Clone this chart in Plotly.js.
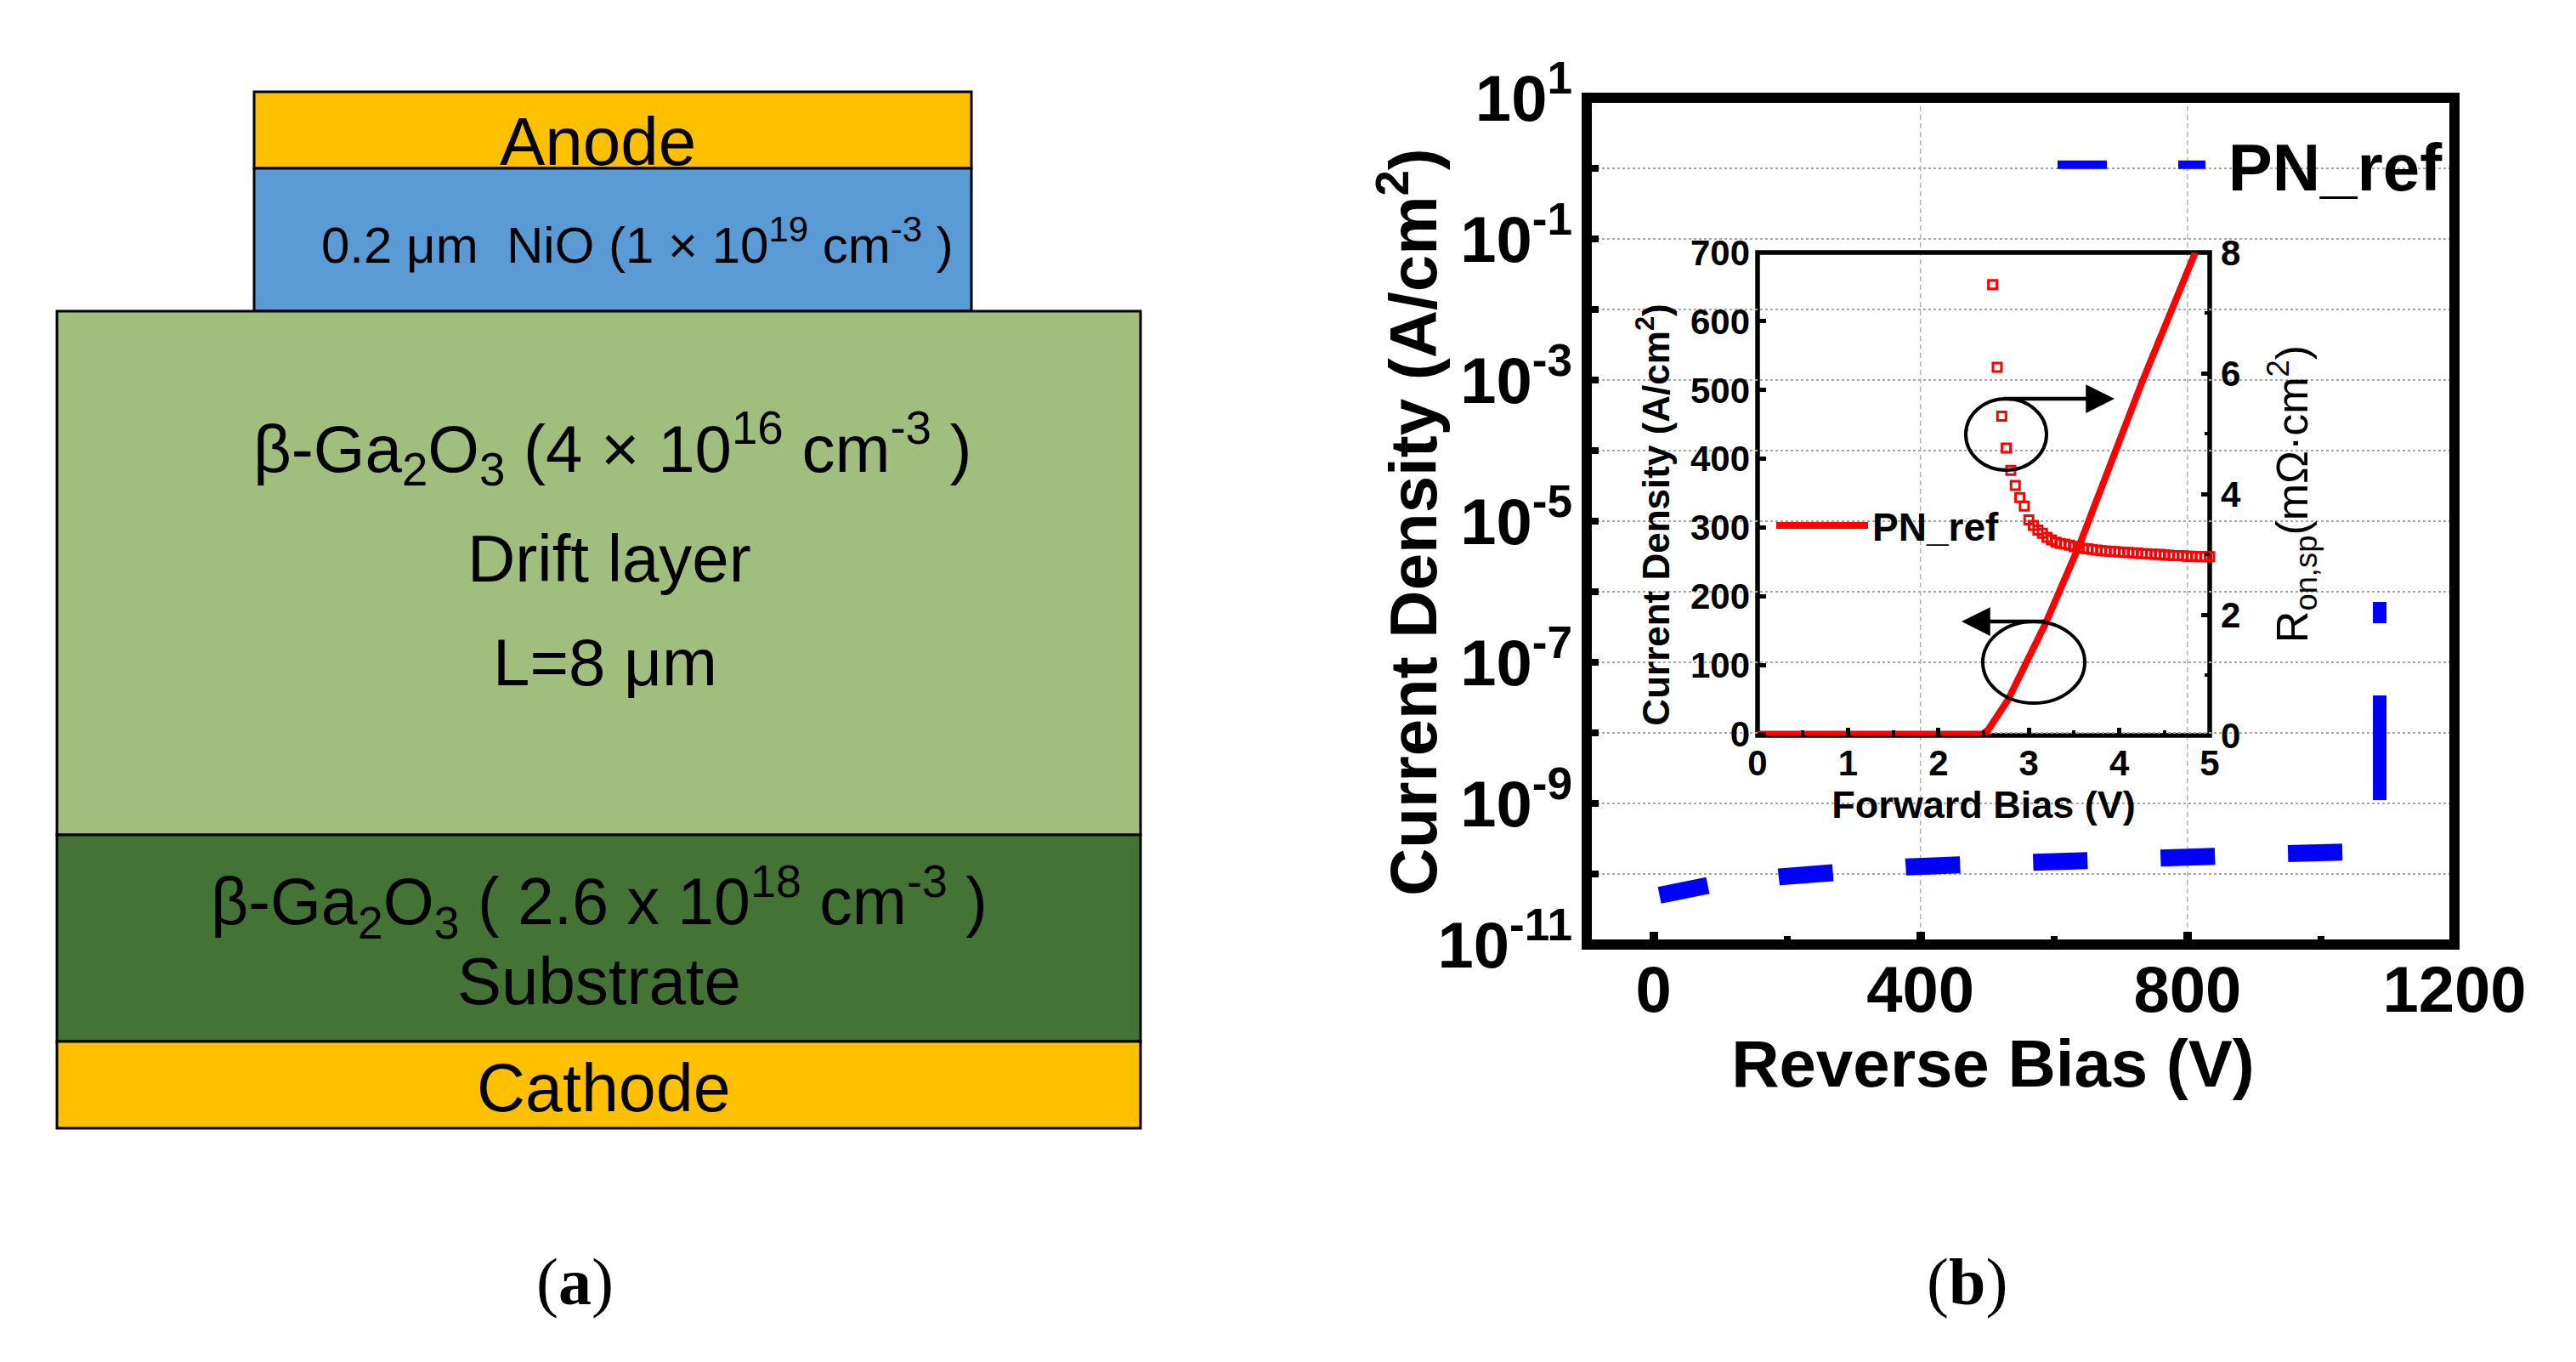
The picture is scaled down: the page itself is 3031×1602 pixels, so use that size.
<!DOCTYPE html>
<html>
<head>
<meta charset="utf-8">
<script src="https://cdn.plot.ly/plotly-3.0.1.min.js"></script>
<style>html,body{margin:0;padding:0;background:#fff}</style>
</head>
<body>
<div id="chart" style="width:3031px;height:1602px"></div>
<script>
// ---- main plot: reverse bias leakage
const reverseBiasLeak = [9, 82, 189, 270, 378, 461, 569, 650, 759, 840, 950, 1029, 1088];
const currentLeak = [5.0e-11, 6.9e-11, 9.1e-11, 1.1e-10, 1.26e-10, 1.35e-10, 1.51e-10, 1.55e-10, 1.74e-10, 1.78e-10, 1.95e-10, 2.0e-10, 2.1e-10];
const reverseBiasBreak = [1088, 1088];
const currentBreak = [1.12e-9, 7.2e-7];
const mainXTicks = [0, 400, 800, 1200];
const mainXMinor = [200, 600, 1000];
const mainXGrid = [400, 800];
const mainYTicks = [10, 0.1, 1e-3, 1e-5, 1e-7, 1e-9, 1e-11];
const mainYTickText = ['10<sup>1</sup>', '10<sup>-1</sup>', '10<sup>-3</sup>', '10<sup>-5</sup>', '10<sup>-7</sup>', '10<sup>-9</sup>', '10<sup>-11</sup>'];
const mainYMinor = [1, 0.01, 1e-4, 1e-6, 1e-8, 1e-10];
// ---- inset: forward bias
const forwardBias = [0, 1, 2, 2.4, 2.49, 2.55, 2.65, 2.77, 3.186, 3.43, 3.56, 4.25, 4.84];
const forwardCurrent = [0, 0, 0, 0, 0, 6, 25, 50, 161, 232, 275, 511, 700];
const ronBias = [2.6, 2.65, 2.7, 2.75, 2.8, 2.85, 2.9, 2.95, 3.0, 3.05, 3.1, 3.15, 3.2, 3.25, 3.3, 3.35, 3.4, 3.45, 3.5, 3.55, 3.6, 3.65, 3.7, 3.75, 3.8, 3.85, 3.9, 3.95, 4.0, 4.05, 4.1, 4.15, 4.2, 4.25, 4.3, 4.35, 4.4, 4.45, 4.5, 4.55, 4.6, 4.65, 4.7, 4.75, 4.8, 4.85, 4.9, 4.95, 5.0];
const ronValues = [7.47, 6.10, 5.29, 4.76, 4.39, 4.14, 3.94, 3.80, 3.57, 3.48, 3.40, 3.35, 3.28, 3.24, 3.20, 3.18, 3.17, 3.15, 3.13, 3.11, 3.10, 3.09, 3.08, 3.07, 3.06, 3.055, 3.05, 3.045, 3.04, 3.03, 3.03, 3.025, 3.02, 3.01, 3.01, 3.005, 3.0, 3.0, 2.99, 2.985, 2.98, 2.98, 2.975, 2.97, 2.97, 2.965, 2.96, 2.96, 2.96];
const legendName = 'PN_ref';
// ---- panel (a): device layers, top to bottom
const layerNames = ['Anode', 'NiO', 'Drift', 'Substrate', 'Cathode'];
const layerColors = ['#FFC000', '#5B9BD5', '#A2BE7E', '#437435', '#FFC000'];

const W = 3031, H = 1602;
const px = x => x / W;
const py = y => 1 - y / H;
const SANS = '"Liberation Sans", Arial, sans-serif';
const SERIF = '"Liberation Serif", "Times New Roman", serif';

function rect(x0, y0, x1, y1, fill) {
  return {type: 'rect', xref: 'paper', yref: 'paper', x0: px(x0), x1: px(x1), y0: py(y0), y1: py(y1),
          fillcolor: fill, line: {color: '#000', width: 3}, layer: 'below'};
}
function label(text, x, y, size, family) {
  return {text, xref: 'paper', yref: 'paper', x: px(x), y: py(y), xanchor: 'center', yanchor: 'middle',
          showarrow: false, font: {family: family || SANS, size, color: '#000'}};
}
function ellipse(x0, y0, x1, y1) {
  return {type: 'circle', xref: 'paper', yref: 'paper', x0: px(x0), x1: px(x1), y0: py(y0), y1: py(y1),
          line: {color: '#000', width: 4}, layer: 'above'};
}
function arrow(x0, x1, y) {
  return {xref: 'paper', yref: 'paper', x: px(x1), y: py(y), axref: 'pixel', ayref: 'pixel', ax: x0 - x1, ay: 0,
          text: '', showarrow: true, arrowhead: 2, arrowsize: 1.5, arrowwidth: 4.5, arrowcolor: '#000'};
}

const traces = [
  {x: reverseBiasLeak, y: currentLeak, xaxis: 'x', yaxis: 'y', mode: 'lines', name: '\u00A0' + legendName,
   line: {color: '#0000FF', width: 20, dash: '58px,84px,64px,86px,64px,86px,64px,86px,64px,86px,64px,86px'}, legend: 'legend'},
  {x: reverseBiasBreak, y: currentBreak, xaxis: 'x', yaxis: 'y', mode: 'lines', showlegend: false,
   line: {color: '#0000FF', width: 16, dash: '123px,85px,25px,85px'}},
  {x: forwardBias, y: forwardCurrent, xaxis: 'x2', yaxis: 'y2', mode: 'lines', name: legendName, cliponaxis: false,
   line: {color: '#FF0000', width: 8}, legend: 'legend2'},
  {x: ronBias, y: ronValues, xaxis: 'x2', yaxis: 'y3', mode: 'markers', showlegend: false, cliponaxis: false,
   marker: {symbol: 'square-open', size: 10, color: '#FF0000', line: {color: '#FF0000', width: 3}}}
];

const panelA = [
  rect(299, 108, 1143, 198, layerColors[0]),
  rect(299, 198, 1143, 366, layerColors[1]),
  rect(67, 366, 1342, 982, layerColors[2]),
  rect(67, 982, 1342, 1225, layerColors[3]),
  rect(67, 1225, 1342, 1327, layerColors[4])
];

const frames = [
  {type: 'rect', xref: 'x domain', yref: 'y domain', x0: 0, x1: 1, y0: 0, y1: 1, line: {color: '#000', width: 12}, layer: 'above'},
  {type: 'rect', xref: 'x2 domain', yref: 'y2 domain', x0: 0, x1: 1, y0: 0, y1: 1, line: {color: '#000', width: 5.5}, layer: 'below'}
];
const vGrid = mainXGrid.map(v => ({type: 'line', xref: 'x', yref: 'y domain', x0: v, x1: v, y0: 0, y1: 1,
  line: {color: '#B5B5B5', width: 1.5, dash: '6px,4px'}, layer: 'below'}));

const tickBold76 = {family: SANS, size: 76, color: '#000', weight: 'bold'};
const tickBold42 = {family: SANS, size: 42, color: '#000', weight: 'bold'};

const layout = {
  width: W, height: H, autosize: false, paper_bgcolor: '#fff', plot_bgcolor: 'rgba(0,0,0,0)',
  margin: {l: 0, r: 0, t: 0, b: 0, pad: 0},
  font: {family: SANS, color: '#000'},
  xaxis: {
    domain: [px(1867), px(2888)], range: [-100, 1200], anchor: 'y', showline: false, zeroline: false, showgrid: false,
    tickmode: 'array', tickvals: mainXTicks, ticktext: mainXTicks.map(String),
    ticks: 'inside', ticklen: 15, tickwidth: 10, tickcolor: '#000', ticklabelstandoff: 2,
    tickfont: tickBold76,
    minor: {tickmode: 'array', tickvals: mainXMinor, ticks: 'inside', ticklen: 10, tickwidth: 8, tickcolor: '#000', showgrid: false},
    title: {text: '<b>Reverse Bias (V)</b>&nbsp;&nbsp;&nbsp;', standoff: 18, font: {family: SANS, size: 78, color: '#000'}}
  },
  yaxis: {
    domain: [py(1111), py(115)], type: 'log', range: [-11, 1], anchor: 'x', showline: false, zeroline: false,
    tickmode: 'array', tickvals: mainYTicks, ticktext: mainYTickText,
    ticks: 'inside', ticklen: 14, tickwidth: 8, tickcolor: '#000', ticklabelstandoff: 16,
    tickfont: tickBold76,
    showgrid: true, gridcolor: '#A6A6A6', gridwidth: 2.5, griddash: 'dot',
    minor: {tickmode: 'array', tickvals: mainYMinor, ticks: 'inside', ticklen: 14, tickwidth: 8, tickcolor: '#000',
            showgrid: true, gridcolor: '#A6A6A6', gridwidth: 2.5, griddash: 'dot'}
  },
  xaxis2: {
    domain: [px(2068), px(2600)], range: [0, 5], anchor: 'y2', showline: false, zeroline: false, showgrid: false,
    tickmode: 'array', tickvals: [0, 1, 2, 3, 4, 5], ticks: 'inside', ticklen: 9, tickwidth: 5, tickcolor: '#000', ticklabelstandoff: 4,
    tickfont: tickBold42,
    minor: {tickmode: 'array', tickvals: [0.5, 1.5, 2.5, 3.5, 4.5], ticks: 'inside', ticklen: 6, tickwidth: 4, tickcolor: '#000', showgrid: false},
    title: {text: '<b>Forward Bias (V)</b>', standoff: 8, font: {family: SANS, size: 45, color: '#000'}}
  },
  yaxis2: {
    domain: [py(865), py(297)], range: [-2, 700], anchor: 'x2', showline: false, zeroline: false, showgrid: false,
    tickmode: 'array', tickvals: [0, 100, 200, 300, 400, 500, 600, 700], ticks: 'inside', ticklen: 10, tickwidth: 5, tickcolor: '#000', ticklabelstandoff: 8,
    tickfont: tickBold42,
    title: {text: '<b>Current Density (A/cm<sup>2</sup>)</b>&nbsp;&nbsp;&nbsp;&nbsp;', standoff: 10, font: {family: SANS, size: 44, color: '#000'}}
  },
  yaxis3: {
    domain: [py(865), py(297)], range: [0, 8], overlaying: 'y2', side: 'right', anchor: 'x2', showline: false, zeroline: false, showgrid: false,
    tickmode: 'array', tickvals: [0, 2, 4, 6, 8], ticks: 'inside', ticklen: 10, tickwidth: 5, tickcolor: '#000', ticklabelstandoff: 12,
    tickfont: tickBold42,
    minor: {tickmode: 'array', tickvals: [1, 3, 5, 7], ticks: 'inside', ticklen: 6, tickwidth: 4, tickcolor: '#000', showgrid: false},
    title: {text: 'R<sub>on,sp</sub>(mΩ·cm<sup>2</sup>)', standoff: 42, font: {family: SANS, size: 52, color: '#000'}}
  },
  legend: {x: px(2416), y: py(194), xanchor: 'left', yanchor: 'middle', itemwidth: 174, bgcolor: 'rgba(0,0,0,0)',
           font: {family: SANS, size: 78, color: '#000', weight: 'bold'}, borderwidth: 0, tracegroupgap: 0},
  legend2: {x: px(2085), y: py(618), xanchor: 'left', yanchor: 'middle', itemwidth: 108, bgcolor: 'rgba(0,0,0,0)',
           font: {family: SANS, size: 46, color: '#000', weight: 'bold'}, borderwidth: 0},
  showlegend: true,
  shapes: [...panelA, ...vGrid, ...frames, ellipse(2313, 469, 2408, 553), ellipse(2333, 731, 2453, 827)],
  annotations: [
    Object.assign(label('<b>Current Density (A/cm<sup>2</sup>)</b>', 1657, 614, 78), {textangle: -90}),
    label('Anode', 703, 166, 80),
    label('0.2 μm  NiO (1 × 10<sup>19</sup> cm<sup>-3</sup> )', 750, 284, 60),
    label('β-Ga<sub>2</sub>O<sub>3</sub> (4 × 10<sup>16</sup> cm<sup>-3</sup> )', 721, 528, 78),
    label('Drift layer', 717, 657, 78),
    label('L=8 μm', 712, 779, 78),
    label('β-Ga<sub>2</sub>O<sub>3</sub> ( 2.6 x 10<sup>18</sup> cm<sup>-3</sup> )', 705, 1060, 77),
    label('Substrate', 705, 1154, 78),
    label('Cathode', 710, 1279, 79),
    label('(<b>a</b>)', 676, 1507, 78, SERIF),
    label('(<b>b</b>)', 2314, 1507, 78, SERIF),
    arrow(2356, 2488, 469),
    arrow(2408, 2308, 731)
  ]
};

Plotly.newPlot('chart', traces, layout, {displayModeBar: false, staticPlot: true});
</script>
</body>
</html>
